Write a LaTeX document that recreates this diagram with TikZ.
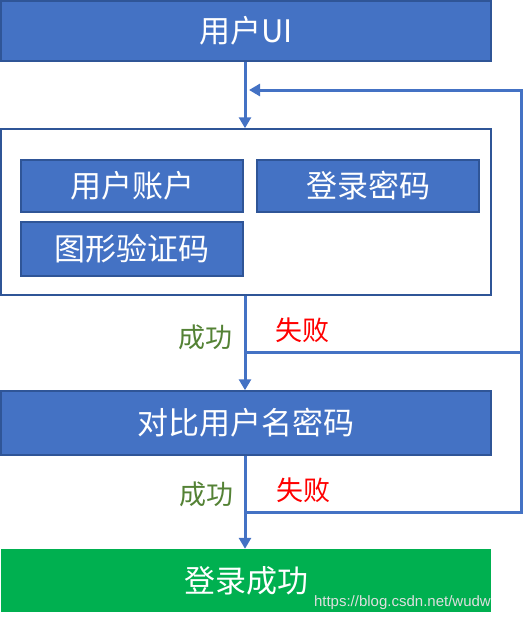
\documentclass[tikz,border=0pt]{standalone}
\usepackage{fontspec}
\newfontfamily\cjk{Noto Sans CJK SC}
\newfontfamily\wmfont{Liberation Sans}
\usetikzlibrary{arrows.meta}
\definecolor{boxblue}{HTML}{4472C4}
\definecolor{boxborder}{HTML}{2F5597}
\definecolor{okgreen}{HTML}{00B050}
\definecolor{lblgreen}{HTML}{548235}
\tikzset{
  bluebox/.style={draw=boxborder, line width=1.5pt, fill=boxblue, text=white, inner sep=0pt,
    font=\cjk\fontsize{31}{34}\selectfont},
  framebox/.style={draw=boxborder, line width=1.5pt, fill=white, inner sep=0pt},
  greenbox/.style={fill=okgreen, text=white, inner sep=0pt, font=\cjk\fontsize{31}{34}\selectfont},
  conn/.style={draw=boxblue, line width=3pt},
  tip/.style={-{Triangle[length=11pt,width=12pt]}},
  oklbl/.style={text=lblgreen, font=\cjk\fontsize{27}{30}\selectfont, inner sep=0pt},
  faillbl/.style={text=red, font=\cjk\fontsize{27}{30}\selectfont, inner sep=0pt},
}
\begin{document}
\begin{tikzpicture}[x=1pt,y=-1pt]
\useasboundingbox (0,0) rectangle (526,621);
\node[bluebox, minimum width=490pt, minimum height=60pt] (ui) at (246,31) {用户UI};
\node[framebox, minimum width=490pt, minimum height=166pt] (big) at (246,212) {};
\node[bluebox, minimum width=222pt, minimum height=52pt] (acc) at (132,186) {用户账户};
\node[bluebox, minimum width=222pt, minimum height=52pt] (pwd) at (368,186) {登录密码};
\node[bluebox, minimum width=222pt, minimum height=54pt] (cap) at (132,249) {图形验证码};
\node[bluebox, minimum width=490pt, minimum height=64pt] (cmp) at (246,423) {对比用户名密码};
\node[greenbox, minimum width=490pt, minimum height=63pt] (ok) at (246,580.5) {登录成功};
\node[anchor=south east, inner sep=0pt, text=white!75!gray, font=\wmfont\fontsize{15}{17}\selectfont] (wm) at (491,610) {https://blog.csdn.net/wudw};

\coordinate (j1) at (245,352);
\coordinate (j2) at (245,512);
\coordinate (r1) at (521,512);
\coordinate (r0) at (521,90);
\coordinate (a0) at (249,90);

\draw[conn,tip] (ui.south -| j1) -- (big.north -| j1);
\draw[conn,tip] (big.south -| j1) -- (cmp.north -| j1);
\draw[conn,tip] (cmp.south -| j1) -- (ok.north -| j1);
\draw[conn] (j1) -- (r1 |- j1);
\draw[conn,tip] (j2) -- (r1) -- (r0) -- (a0);

\node[oklbl, anchor=east] (s1) at (233,337) {成功};
\node[faillbl, anchor=west] (f1) at (275,330) {失败};
\node[oklbl, anchor=east] (s2) at (234,494) {成功};
\node[faillbl, anchor=west] (f2) at (276,490) {失败};
\end{tikzpicture}
\end{document}
